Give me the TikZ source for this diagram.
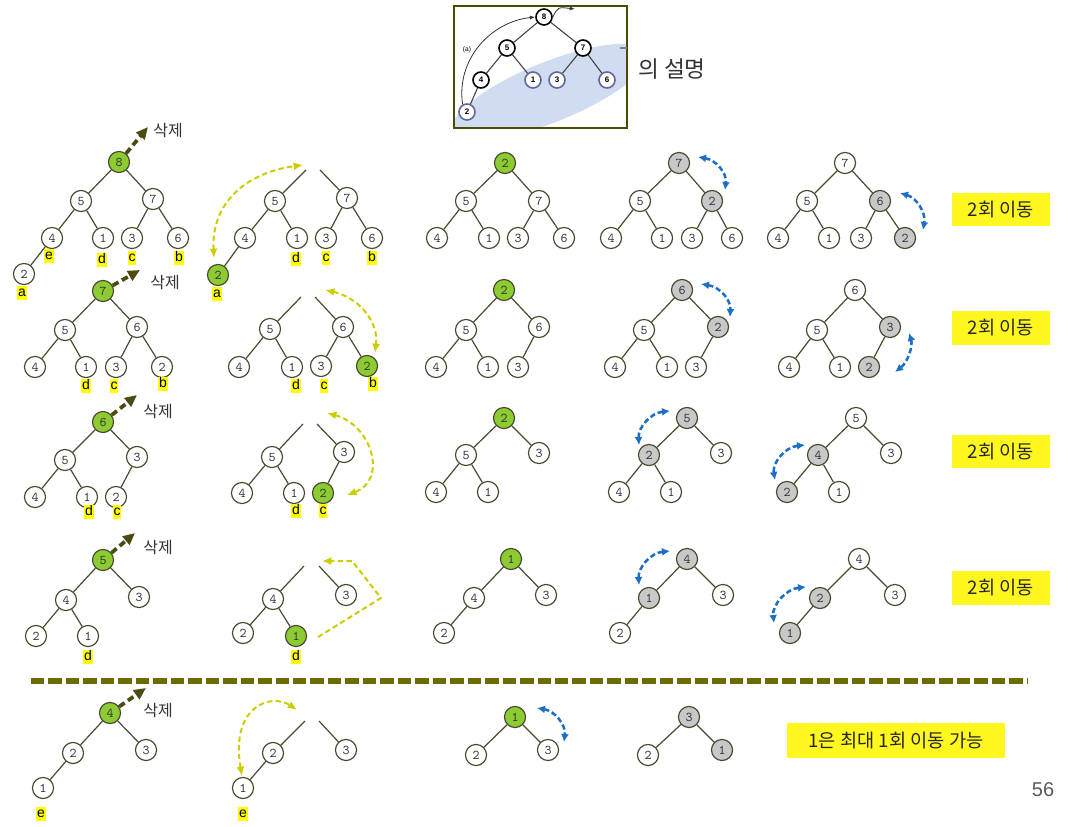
\documentclass[tikz,border=0pt]{standalone}
\usepackage{fontspec}
\setmainfont{Liberation Sans}
\newfontfamily\krfont{Noto Sans CJK KR}
\usetikzlibrary{arrows.meta,positioning,calc}
\definecolor{edgec}{HTML}{4A4A30}
\definecolor{nodeg}{HTML}{8DCB32}
\definecolor{nodegr}{HTML}{C8C8C8}
\definecolor{hl}{HTML}{FFFF00}
\definecolor{boxy}{HTML}{FFF71E}
\definecolor{delc}{HTML}{4B4B12}
\definecolor{movy}{HTML}{CCCC00}
\definecolor{swpb}{HTML}{1C6FC2}
\definecolor{sepc}{HTML}{6B6B00}
\definecolor{insetb}{HTML}{D0DCF0}
\definecolor{txtd}{HTML}{333333}
\tikzset{
  % tree node, white unless a fill is given
  nd/.style     = {circle, draw=edgec, fill=#1, line width=0.9pt, minimum size=15.8pt,
                   inner sep=0pt, font=\ttfamily\fontsize{10}{10}\selectfont, text=txtd},
  nd/.default   = white,
  lnk/.style    = {draw=edgec, line width=0.9pt},
  lbl/.style    = {fill=hl, inner sep=0.5pt, text height=7.5pt, text depth=2pt,
                   font=\fontsize{10.5}{11}\selectfont},
  delarr/.style = {-{Triangle[length=9pt,width=8pt]}, delc, line width=2.8pt,
                   dash pattern=on 5pt off 3pt},
  movarr/.style = {{Latex[length=7pt,width=6pt]}-{Latex[length=7pt,width=6pt]}, movy,
                   line width=1.5pt, dash pattern=on 4pt off 2.5pt},
  swparr/.style = {{Latex[length=6pt,width=6pt]}-{Latex[length=6pt,width=6pt]}, swpb,
                   line width=1.9pt, dash pattern=on 4pt off 2.2pt},
  krtxt/.style  = {font=\krfont\fontsize{12}{13}\selectfont, text=txtd, inner sep=0pt},
  cntbox/.style = {fill=boxy, minimum height=25pt, inner sep=0pt, text=black!85,
                   font=\krfont\fontsize{14}{15}\selectfont},
  snd/.style    = {circle, draw=#1, fill=white, line width=1.2pt, minimum size=12pt,
                   inner sep=0pt, font=\bfseries\fontsize{6}{6}\selectfont},
}
\begin{document}
\begin{tikzpicture}[x=0.75pt,y=-0.75pt]
\useasboundingbox (0,0) rectangle (1073,827);
% inset from the book
\begin{scope}
  \clip (454,6) rectangle (627,128);
  \fill[insetb, rotate around={22:(550,92)}] (550,92) ellipse (105 and 30);
\end{scope}
\draw[sepc!70!black, line width=1pt] (454,6) rectangle (627,128);
\node[snd=black] (i8) at (544,17) {8};
\node[snd=black] (i5) at (507,48) {5};
\node[snd=black] (i7) at (583,48) {7};
\node[snd=black] (i4) at (481,80) {4};
\node[snd=gray!80!blue] (i1) at (533,80) {1};
\node[snd=gray!80!blue] (i3) at (557,80) {3};
\node[snd=gray!80!blue] (i6) at (607,80) {6};
\node[snd=gray!80!blue] (i2) at (467,112) {2};
\foreach \a/\b in {8/5,8/7,5/4,5/1,7/3,7/6,4/2} {\draw[black!75, line width=0.8pt] (i\a) -- (i\b);}
\node[font=\fontsize{5}{5}\selectfont] (ia) at (467,50) {(a)};
\coordinate (iX) at (575,9);
\draw[-{Latex[length=4pt]}, black!80, line width=0.6pt] (i2.120) .. controls (456,60) and (490,22) .. (i8.west);
\draw[-{Latex[length=4pt]}, black!80, line width=0.6pt] (i8.east) .. controls (558,7) .. (iX);
\draw[gray, line width=0.8pt] (620,48) -- (627,48);
\node[krtxt, font=\krfont\fontsize{17}{18}\selectfont] (expl) at (672,69) {의 설명};

% row 1 -- delete 8
\node[nd=nodeg] (r1a8) at (119,162) {8};
\node[nd] (r1a5) at (81,201) {5};
\node[nd] (r1a7) at (153,199) {7};
\node[nd] (r1a4) at (52,238) {4};
\node[nd] (r1a1) at (103,238) {1};
\node[nd] (r1a3) at (132,238) {3};
\node[nd] (r1a6) at (178,238) {6};
\node[nd] (r1a2) at (24,274) {2};
\foreach \a/\b in {8/5,8/7,5/4,5/1,7/3,7/6,4/2} {\draw[lnk] (r1a\a) -- (r1a\b);}
\node[lbl] (r1ae) at (49,256) {e};
\node[lbl] (r1ad) at (102,260) {d};
\node[lbl] (r1ac) at (132,258) {c};
\node[lbl] (r1ab) at (179,258) {b};
\node[lbl] (r1aa) at (22,293) {a};
\coordinate (r1aX) at (148,127);
\draw[delarr] (r1a8) -- (r1aX);
\node[krtxt] (r1aD) at (168,131) {삭제};
\coordinate (r1bL) at (306,170);
\coordinate (r1bR) at (320,170);
\node[nd] (r1b5) at (275,201) {5};
\node[nd] (r1b7) at (347,198) {7};
\node[nd] (r1b4) at (245,238) {4};
\node[nd] (r1b1) at (297,238) {1};
\node[nd] (r1b3) at (326,238) {3};
\node[nd] (r1b6) at (372,238) {6};
\node[nd=nodeg] (r1b2) at (218,275) {2};
\foreach \a/\b in {L/5,R/7,5/4,5/1,7/3,7/6,4/2} {\draw[lnk] (r1b\a) -- (r1b\b);}
\node[lbl] (r1bd) at (296,259) {d};
\node[lbl] (r1bc) at (326,258) {c};
\node[lbl] (r1bb) at (372,258) {b};
\node[lbl] (r1ba) at (217,294) {a};
\coordinate (r1bN) at (214,258);
\coordinate (r1bM) at (303,165);
\draw[movarr] (r1bN) .. controls (211,200) and (250,172) .. (r1bM);
\node[nd=nodeg] (r1c2) at (505,163) {2};
\node[nd] (r1c5) at (466,201) {5};
\node[nd] (r1c7) at (539,201) {7};
\node[nd] (r1c4) at (437,238) {4};
\node[nd] (r1c1) at (489,238) {1};
\node[nd] (r1c3) at (518,238) {3};
\node[nd] (r1c6) at (564,238) {6};
\foreach \a/\b in {2/5,2/7,5/4,5/1,7/3,7/6} {\draw[lnk] (r1c\a) -- (r1c\b);}
\node[nd=nodegr] (r1d7) at (679,163) {7};
\node[nd] (r1d5) at (640,201) {5};
\node[nd=nodegr] (r1d2) at (712,201) {2};
\node[nd] (r1d4) at (611,238) {4};
\node[nd] (r1d1) at (662,238) {1};
\node[nd] (r1d3) at (692,238) {3};
\node[nd] (r1d6) at (732,238) {6};
\foreach \a/\b in {7/5,7/2,5/4,5/1,2/3,2/6} {\draw[lnk] (r1d\a) -- (r1d\b);}
\coordinate (r1dS) at (698,157);
\coordinate (r1dT) at (725,190);
\draw[swparr] (r1dS) .. controls (716,160) and (727,173) .. (r1dT);
\node[nd] (r1e7) at (845,163) {7};
\node[nd] (r1e5) at (807,201) {5};
\node[nd=nodegr] (r1e6) at (880,201) {6};
\node[nd] (r1e4) at (778,238) {4};
\node[nd] (r1e1) at (829,238) {1};
\node[nd] (r1e3) at (861,238) {3};
\node[nd=nodegr] (r1e2) at (905,238) {2};
\foreach \a/\b in {7/5,7/6,5/4,5/1,6/3,6/2} {\draw[lnk] (r1e\a) -- (r1e\b);}
\coordinate (r1eS) at (900,193);
\coordinate (r1eT) at (923,230);
\draw[swparr] (r1eS) .. controls (917,198) and (926,213) .. (r1eT);
\node[cntbox, minimum width=73.5pt] (r1cnt) at (1001,209.5) {2회 이동};

% row 2 -- delete 7
\node[nd=nodeg] (r2a7) at (103,291) {7};
\node[nd] (r2a5) at (65,330) {5};
\node[nd] (r2a6) at (137,327) {6};
\node[nd] (r2a4) at (35,367) {4};
\node[nd] (r2a1) at (86,367) {1};
\node[nd] (r2a3) at (116,367) {3};
\node[nd] (r2a2) at (162,367) {2};
\foreach \a/\b in {7/5,7/6,5/4,5/1,6/3,6/2} {\draw[lnk] (r2a\a) -- (r2a\b);}
\node[lbl] (r2ad) at (86,386) {d};
\node[lbl] (r2ac) at (114,386) {c};
\node[lbl] (r2ab) at (163,384) {b};
\coordinate (r2aX) at (140,270);
\draw[delarr] (r2a7) -- (r2aX);
\node[krtxt] (r2aD) at (165,283) {삭제};
\coordinate (r2bL) at (301,297);
\coordinate (r2bR) at (315,297);
\node[nd] (r2b5) at (270,329) {5};
\node[nd] (r2b6) at (343,327) {6};
\node[nd] (r2b4) at (239,367) {4};
\node[nd] (r2b1) at (292,367) {1};
\node[nd] (r2b3) at (321,366) {3};
\node[nd=nodeg] (r2b2) at (367,366) {2};
\foreach \a/\b in {L/5,R/6,5/4,5/1,6/3,6/2} {\draw[lnk] (r2b\a) -- (r2b\b);}
\node[lbl] (r2bd) at (296,386) {d};
\node[lbl] (r2bc) at (324,386) {c};
\node[lbl] (r2bb) at (373,384) {b};
\coordinate (r2bM) at (325,290);
\coordinate (r2bN) at (375,353);
\draw[movarr] (r2bM) .. controls (357,297) and (379,320) .. (r2bN);
\node[nd=nodeg] (r2c2) at (504,290) {2};
\node[nd] (r2c5) at (466,330) {5};
\node[nd] (r2c6) at (539,327) {6};
\node[nd] (r2c4) at (436,367) {4};
\node[nd] (r2c1) at (488,367) {1};
\node[nd] (r2c3) at (518,367) {3};
\foreach \a/\b in {2/5,2/6,5/4,5/1,6/3} {\draw[lnk] (r2c\a) -- (r2c\b);}
\node[nd=nodegr] (r2d6) at (682,290) {6};
\node[nd] (r2d5) at (644,330) {5};
\node[nd=nodegr] (r2d2) at (718,327) {2};
\node[nd] (r2d4) at (615,367) {4};
\node[nd] (r2d1) at (667,367) {1};
\node[nd] (r2d3) at (696,367) {3};
\foreach \a/\b in {6/5,6/2,5/4,5/1,2/3} {\draw[lnk] (r2d\a) -- (r2d\b);}
\coordinate (r2dS) at (701,284);
\coordinate (r2dT) at (730,317);
\draw[swparr] (r2dS) .. controls (720,287) and (731,300) .. (r2dT);
\node[nd] (r2e6) at (855,290) {6};
\node[nd] (r2e5) at (817,330) {5};
\node[nd=nodegr] (r2e3) at (890,327) {3};
\node[nd] (r2e4) at (789,367) {4};
\node[nd] (r2e1) at (840,367) {1};
\node[nd=nodegr] (r2e2) at (869,367) {2};
\foreach \a/\b in {6/5,6/3,5/4,5/1,3/2} {\draw[lnk] (r2e\a) -- (r2e\b);}
\coordinate (r2eS) at (909,333);
\coordinate (r2eT) at (895,372);
\draw[swparr] (r2eS) .. controls (913,346) and (908,362) .. (r2eT);
\node[cntbox, minimum width=73.5pt] (r2cnt) at (1001,328) {2회 이동};

% row 3 -- delete 6
\node[nd=nodeg] (r3a6) at (103,422) {6};
\node[nd] (r3a5) at (65,460) {5};
\node[nd] (r3a3) at (137,457) {3};
\node[nd] (r3a4) at (35,497) {4};
\node[nd] (r3a1) at (87,497) {1};
\node[nd] (r3a2) at (116,497) {2};
\foreach \a/\b in {6/5,6/3,5/4,5/1,3/2} {\draw[lnk] (r3a\a) -- (r3a\b);}
\node[lbl] (r3ad) at (89,512) {d};
\node[lbl] (r3ac) at (117,512) {c};
\coordinate (r3aX) at (137,395);
\draw[delarr] (r3a6) -- (r3aX);
\node[krtxt] (r3aD) at (158,412) {삭제};
\coordinate (r3bL) at (303,424);
\coordinate (r3bR) at (317,424);
\node[nd] (r3b5) at (272,457) {5};
\node[nd] (r3b3) at (344,452) {3};
\node[nd] (r3b4) at (242,493) {4};
\node[nd] (r3b1) at (294,493) {1};
\node[nd=nodeg] (r3b2) at (323,493) {2};
\foreach \a/\b in {L/5,R/3,5/4,5/1,3/2} {\draw[lnk] (r3b\a) -- (r3b\b);}
\node[lbl] (r3bd) at (296,511) {d};
\node[lbl] (r3bc) at (323,511) {c};
\coordinate (r3bM) at (327,413);
\coordinate (r3bN) at (347,495);
\draw[movarr] (r3bM) .. controls (372,425) and (388,480) .. (r3bN);
\node[nd=nodeg] (r3c2) at (504,418) {2};
\node[nd] (r3c5) at (466,455) {5};
\node[nd] (r3c3) at (539,453) {3};
\node[nd] (r3c4) at (436,492) {4};
\node[nd] (r3c1) at (488,492) {1};
\foreach \a/\b in {2/5,2/3,5/4,5/1} {\draw[lnk] (r3c\a) -- (r3c\b);}
\node[nd=nodegr] (r3d5) at (687,418) {5};
\node[nd=nodegr] (r3d2) at (649,455) {2};
\node[nd] (r3d3) at (721,453) {3};
\node[nd] (r3d4) at (619,492) {4};
\node[nd] (r3d1) at (671,492) {1};
\foreach \a/\b in {5/2,5/3,2/4,2/1} {\draw[lnk] (r3d\a) -- (r3d\b);}
\coordinate (r3dS) at (670,411);
\coordinate (r3dT) at (639,445);
\draw[swparr] (r3dS) .. controls (650,413) and (638,428) .. (r3dT);
\node[nd] (r3e5) at (856,418) {5};
\node[nd=nodegr] (r3e4) at (818,455) {4};
\node[nd] (r3e3) at (891,453) {3};
\node[nd=nodegr] (r3e2) at (787,492) {2};
\node[nd] (r3e1) at (839,492) {1};
\foreach \a/\b in {5/4,5/3,4/2,4/1} {\draw[lnk] (r3e\a) -- (r3e\b);}
\coordinate (r3eS) at (805,445);
\coordinate (r3eT) at (775,480);
\draw[swparr] (r3eS) .. controls (785,447) and (772,463) .. (r3eT);
\node[cntbox, minimum width=73.5pt] (r3cnt) at (1001,451.5) {2회 이동};

% row 4 -- delete 5
\node[nd=nodeg] (r4a5) at (103,560) {5};
\node[nd] (r4a4) at (66,600) {4};
\node[nd] (r4a3) at (139,597) {3};
\node[nd] (r4a2) at (36,636) {2};
\node[nd] (r4a1) at (88,636) {1};
\foreach \a/\b in {5/4,5/3,4/2,4/1} {\draw[lnk] (r4a\a) -- (r4a\b);}
\node[lbl] (r4ad) at (88,657) {d};
\coordinate (r4aX) at (135,533);
\draw[delarr] (r4a5) -- (r4aX);
\node[krtxt] (r4aD) at (158,548) {삭제};
\coordinate (r4bL) at (304,566);
\coordinate (r4bR) at (319,566);
\node[nd] (r4b4) at (273,599) {4};
\node[nd] (r4b3) at (346,595) {3};
\node[nd] (r4b2) at (243,633) {2};
\node[nd=nodeg] (r4b1) at (296,636) {1};
\foreach \a/\b in {L/4,R/3,4/2,4/1} {\draw[lnk] (r4b\a) -- (r4b\b);}
\node[lbl] (r4bd) at (296,657) {d};
\coordinate (r4bS) at (318,637);
\coordinate (r4bK) at (381,598);
\coordinate (r4bJ) at (352,561);
\coordinate (r4bT) at (322,561);
\draw[movarr, -{Latex[length=7pt,width=6pt]}] (r4bS) -- (r4bK) -- (r4bJ) -- (r4bT);
\node[nd=nodeg] (r4c1) at (511,559) {1};
\node[nd] (r4c4) at (474,598) {4};
\node[nd] (r4c3) at (546,595) {3};
\node[nd] (r4c2) at (444,633) {2};
\foreach \a/\b in {1/4,1/3,4/2} {\draw[lnk] (r4c\a) -- (r4c\b);}
\node[nd=nodegr] (r4d4) at (687,559) {4};
\node[nd=nodegr] (r4d1) at (649,598) {1};
\node[nd] (r4d3) at (723,595) {3};
\node[nd] (r4d2) at (620,633) {2};
\foreach \a/\b in {4/1,4/3,1/2} {\draw[lnk] (r4d\a) -- (r4d\b);}
\coordinate (r4dS) at (670,551);
\coordinate (r4dT) at (639,585);
\draw[swparr] (r4dS) .. controls (650,553) and (638,568) .. (r4dT);
\node[nd] (r4e4) at (859,559) {4};
\node[nd=nodegr] (r4e2) at (820,598) {2};
\node[nd] (r4e3) at (895,595) {3};
\node[nd=nodegr] (r4e1) at (790,633) {1};
\foreach \a/\b in {4/2,4/3,2/1} {\draw[lnk] (r4e\a) -- (r4e\b);}
\coordinate (r4eS) at (806,587);
\coordinate (r4eT) at (774,623);
\draw[swparr] (r4eS) .. controls (786,589) and (772,605) .. (r4eT);
\node[cntbox, minimum width=73.5pt] (r4cnt) at (1001,588) {2회 이동};

% separator
\coordinate (sepL) at (31,681);
\coordinate (sepR) at (1028,681);
\draw[sepc, line width=4.5pt, dash pattern=on 10.1pt off 3pt] (sepL) -- (sepR);

% row 5 -- delete 4
\node[nd=nodeg] (r5a4) at (110,713) {4};
\node[nd] (r5a2) at (73,753) {2};
\node[nd] (r5a3) at (146,750) {3};
\node[nd] (r5a1) at (43,788) {1};
\foreach \a/\b in {4/2,4/3,2/1} {\draw[lnk] (r5a\a) -- (r5a\b);}
\node[lbl] (r5ae) at (41,814) {e};
\coordinate (r5aX) at (146,688);
\draw[delarr] (r5a4) -- (r5aX);
\node[krtxt] (r5aD) at (158,710) {삭제};
\coordinate (r5bL) at (305,721);
\coordinate (r5bR) at (319,721);
\node[nd] (r5b2) at (273,753) {2};
\node[nd] (r5b3) at (346,750) {3};
\node[nd] (r5b1) at (243,788) {1};
\foreach \a/\b in {L/2,R/3,2/1} {\draw[lnk] (r5b\a) -- (r5b\b);}
\node[lbl] (r5be) at (243,814) {e};
\coordinate (r5bN) at (242,776);
\coordinate (r5bM) at (297,710);
\draw[movarr] (r5bN) .. controls (230,705) and (272,693) .. (r5bM);
\node[nd=nodeg] (r5c1) at (515,717) {1};
\node[nd] (r5c2) at (476,755) {2};
\node[nd] (r5c3) at (548,750) {3};
\foreach \a/\b in {1/2,1/3} {\draw[lnk] (r5c\a) -- (r5c\b);}
\coordinate (r5cS) at (537,708);
\coordinate (r5cT) at (564,742);
\draw[swparr] (r5cS) .. controls (555,711) and (566,725) .. (r5cT);
\node[nd=nodegr] (r5d3) at (689,717) {3};
\node[nd] (r5d2) at (648,755) {2};
\node[nd=nodegr] (r5d1) at (722,750) {1};
\foreach \a/\b in {3/2,3/1} {\draw[lnk] (r5d\a) -- (r5d\b);}
\node[cntbox, minimum width=163.5pt, minimum height=26pt] (r5cnt) at (896,740.5) {1은 최대 1회 이동 가능};
\node[font=\fontsize{15}{16}\selectfont, text=black!65] (pgno) at (1043,790) {56};
\end{tikzpicture}
\end{document}
